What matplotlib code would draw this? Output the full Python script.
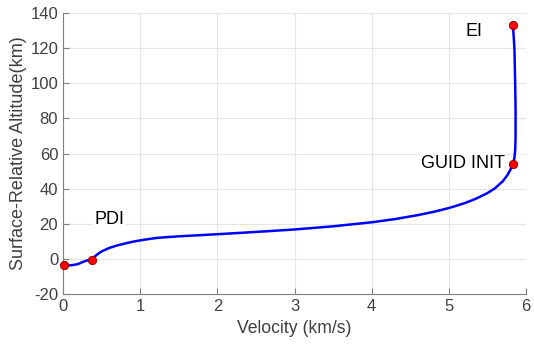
import matplotlib
matplotlib.use("Agg")
import matplotlib.pyplot as plt

plt.rcParams["font.family"] = ["Liberation Sans", "DejaVu Sans"]
plt.rcParams["axes.unicode_minus"] = False

# trajectory
velocity = [0.00, 0.05, 0.10, 0.15, 0.20, 0.25, 0.30, 0.35, 0.37, 0.40, 0.45,
            0.50, 0.60, 0.70, 0.80, 0.90, 1.00, 1.10, 1.20, 1.30, 1.50, 1.75,
            2.00, 2.50, 3.00, 3.50, 4.00, 4.30, 4.60, 4.80, 5.00, 5.20, 5.35,
            5.50, 5.60, 5.70, 5.76, 5.80, 5.83, 5.85, 5.86, 5.865, 5.865,
            5.86, 5.855, 5.85, 5.84, 5.83]
altitude = [-3.5, -3.6, -3.6, -3.3, -2.8, -1.8, -1.0, -0.5, -0.3, 1.0, 2.8,
            4.3, 6.3, 7.7, 8.8, 9.8, 10.6, 11.3, 11.9, 12.3, 12.9, 13.5,
            14.1, 15.4, 16.8, 18.6, 20.9, 22.7, 25.0, 26.8, 29.0, 31.7, 34.3,
            37.5, 40.3, 44.3, 47.8, 51.0, 54.0, 57.5, 62.0, 70.0, 85.0,
            100.0, 110.0, 120.0, 127.0, 133.0]

# event points
event_v = [0.01, 0.37, 5.83, 5.83]
event_h = [-3.5, -0.3, 54.0, 133.0]
labels = ["PDI", "GUID INIT", "EI"]
label_v = [0.41, 5.73, 5.21]
label_h = [22.5, 54.5, 129.5]
label_ha = ["left", "right", "left"]

fig = plt.figure(figsize=(5.34, 3.44), dpi=100)
ax = fig.add_axes([0.118, 0.145, 0.867, 0.817])

ax.plot(velocity, altitude, color="#0000ff", lw=1.8)
ax.plot(event_v, event_h, "o", color="red", mec="#8b0000", mew=0.6, ms=6,
        clip_on=False, zorder=5)

for txt, v, h, ha in zip(labels, label_v, label_h, label_ha):
    ax.text(v, h, txt, ha=ha, va="center", fontsize=13, color="black",
            bbox=dict(facecolor="white", edgecolor="none", pad=1))

ax.set_xlim(0, 6)
ax.set_ylim(-20, 140)
ax.set_xticks(range(0, 7))
ax.set_yticks(range(-20, 141, 20))
ax.grid(True, color="#e6e6e6", lw=0.8)
ax.set_axisbelow(True)
for s in ["top", "right"]:
    ax.spines[s].set_visible(False)
for s in ["left", "bottom"]:
    ax.spines[s].set_color("#808080")
ax.tick_params(colors="#404040", labelsize=12, length=4, direction="in")
ax.tick_params(axis="both", color="#808080")
ax.set_xlabel("Velocity (km/s)", fontsize=12.7, color="#404040")
ax.set_ylabel("Surface-Relative Altitude(km)", fontsize=13, color="#404040",
              labelpad=2)

fig.savefig("out.png", dpi=100)
